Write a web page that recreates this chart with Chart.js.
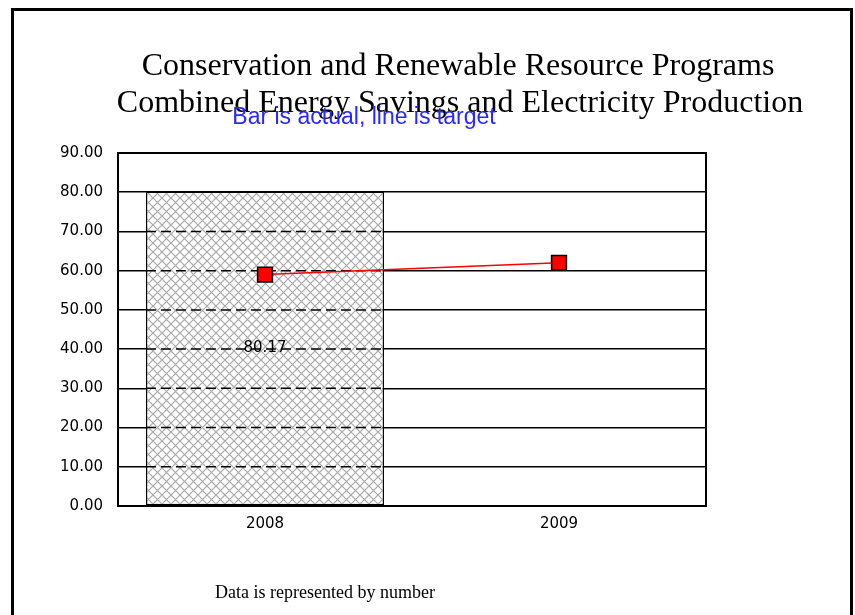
<!DOCTYPE html>
<html>
<head>
<meta charset="utf-8">
<script src="https://cdn.jsdelivr.net/npm/chart.js@4.4.1/dist/chart.umd.min.js"></script>
<style>
    html, body { margin: 0; padding: 0; background: #fff; overflow: hidden; }
    #page { position: relative; width: 855px; height: 615px; overflow: hidden; }
    #frame {
        position: absolute; left: 11px; top: 8px; width: 836px; height: 700px;
        border-top: 3px solid #000; border-left: 3px solid #000; border-right: 3px solid #000;
    }
    canvas { position: absolute; left: 0; top: 0; }
    .txt { position: absolute; white-space: nowrap; transform: translateX(-50%); line-height: 1; }
    .serif { font-family: "Liberation Serif", "Times New Roman", serif; color: #000; }
    #t1 { left: 458px; top: 48px; font-size: 32px; }
    #t2 { left: 460px; top: 85px; font-size: 32px; }
    #sub { left: 364px; top: 105px; font-size: 23px; color: #2828ff; font-family: "Liberation Sans", Arial, sans-serif; }
    #foot { left: 325px; top: 583px; font-size: 18px; }
</style>
</head>
<body>
<div id="page">
    <div id="frame"></div>
    <canvas id="chart" width="855" height="615"></canvas>
    <div class="txt serif" id="t1">Conservation and Renewable Resource Programs</div>
    <div class="txt serif" id="t2">Combined Energy Savings and Electricity Production</div>
    <div class="txt" id="sub">Bar is actual, line is target</div>
    <div class="txt serif" id="foot">Data is represented by number</div>
</div>
<script>
// Chart data
const years = ['2008', '2009'];
const actual = [80.17, null];
const target = [59, 62];
const yMin = 0;
const yMax = 90;
const yStep = 10;

const tickFont = { family: 'DejaVu Sans', size: 15 };

// crosshatch fill for the bar
function hatch() {
    const c = document.createElement('canvas');
    c.width = 9; c.height = 9;
    const g = c.getContext('2d');
    g.fillStyle = '#fff';
    g.fillRect(0, 0, 9, 9);
    g.strokeStyle = '#a8a8a8';
    g.lineWidth = 1.2;
    g.beginPath();
    g.moveTo(0, 0); g.lineTo(9, 9);
    g.moveTo(9, 0); g.lineTo(0, 9);
    g.stroke();
    return g.createPattern(c, 'repeat');
}

// dashed grid over the bar + value label
const barExtras = {
    id: 'barExtras',
    afterDatasetDraw(chart, args) {
        if (args.index !== 0) return;
        const ctx = chart.ctx;
        const yScale = chart.scales.y;
        args.meta.data.forEach((bar, i) => {
            if (actual[i] == null) return;
            const p = bar.getProps(['x', 'y', 'base', 'width'], true);
            const left = p.x - p.width / 2;
            const right = p.x + p.width / 2;
            ctx.save();
            ctx.strokeStyle = '#000';
            ctx.lineWidth = 1.5;
            ctx.setLineDash([10, 5]);
            yScale.ticks.forEach(t => {
                const py = yScale.getPixelForValue(t.value);
                if (py > p.y + 1 && py < p.base - 1) {
                    ctx.beginPath();
                    ctx.moveTo(left, py);
                    ctx.lineTo(right, py);
                    ctx.stroke();
                }
            });
            ctx.setLineDash([]);
            ctx.fillStyle = '#000';
            ctx.font = '15px "DejaVu Sans"';
            ctx.textAlign = 'center';
            ctx.textBaseline = 'middle';
            ctx.fillText(actual[i].toFixed(2), p.x, (p.y + p.base) / 2);
            ctx.restore();
        });
    }
};

// box round the plot area
const areaBorder = {
    id: 'areaBorder',
    afterDraw(chart) {
        const a = chart.chartArea;
        const ctx = chart.ctx;
        ctx.save();
        ctx.strokeStyle = '#000';
        ctx.lineWidth = 2;
        ctx.strokeRect(a.left, a.top, a.right - a.left, a.bottom - a.top);
        ctx.restore();
    }
};

const ctx = document.getElementById('chart').getContext('2d');
new Chart(ctx, {
    data: {
        labels: years,
        datasets: [{
            type: 'bar',
            label: 'Actual',
            data: actual,
            backgroundColor: hatch(),
            borderColor: '#000',
            borderWidth: 1.5,
            borderSkipped: false,
            barPercentage: 0.81,
            categoryPercentage: 1,
            order: 1
        }, {
            type: 'line',
            label: 'Target',
            data: target,
            borderColor: '#ff0000',
            borderWidth: 1.5,
            pointStyle: 'rect',
            pointRadius: 10.5,
            pointBackgroundColor: '#ff0000',
            pointBorderColor: '#000',
            pointBorderWidth: 1.5,
            tension: 0,
            order: 0
        }]
    },
    options: {
        responsive: false,
        animation: false,
        layout: { padding: { left: 0, right: 149, top: 153, bottom: 0 } },
        plugins: {
            legend: { display: false },
            tooltip: { enabled: false }
        },
        scales: {
            x: {
                type: 'category',
                offset: true,
                grid: { display: false, drawTicks: false },
                border: { display: true, color: '#000', width: 2 },
                ticks: { color: '#000', font: tickFont, padding: 9 },
                afterFit: s => { s.height = 109; }
            },
            y: {
                min: yMin,
                max: yMax,
                grid: { color: '#000', lineWidth: 1.5, drawTicks: false },
                border: { display: true, color: '#000', width: 2 },
                ticks: {
                    stepSize: yStep,
                    color: '#000',
                    font: tickFont,
                    padding: 15,
                    callback: v => Number(v).toFixed(2)
                },
                afterFit: s => { s.width = 118; }
            }
        }
    },
    plugins: [barExtras, areaBorder]
});
</script>
</body>
</html>
